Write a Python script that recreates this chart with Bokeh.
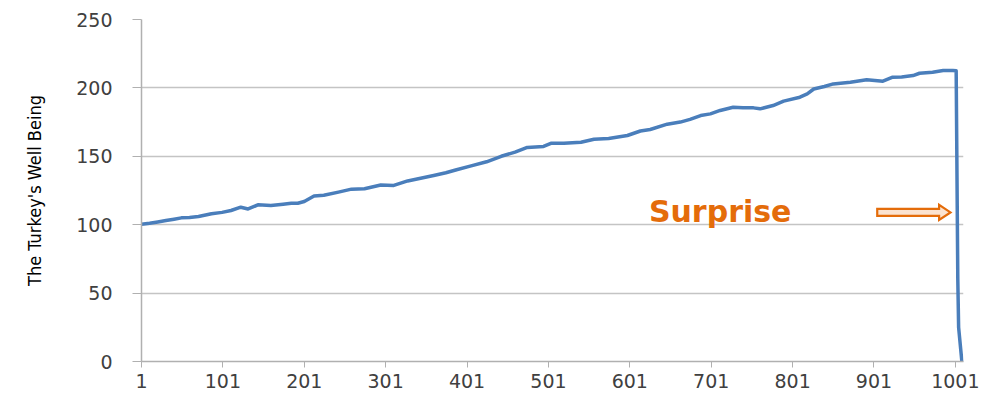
from bokeh.plotting import figure
from bokeh.models import Range1d, FixedTicker, Label, ColumnDataSource
from bokeh.embed import file_html
from bokeh.resources import INLINE

# Well-being readings by day (day number, value)
days = [1, 11, 21, 31, 41, 50, 60, 71, 87, 100, 111, 123, 132, 144, 160, 175, 185, 193,
        201, 213, 225, 243, 259, 275, 295, 311, 328, 344, 360, 375, 387, 406, 425, 443,
        460, 475, 495, 504, 520, 541, 557, 575, 598, 614, 626, 647, 663, 675, 688, 700,
        712, 728, 740, 753, 761, 777, 790, 810, 819, 827, 840, 851, 872, 892, 912, 924,
        935, 949, 957, 973, 986, 998, 1002, 1004, 1005, 1009]
wellbeing = [100.3, 101, 102, 103, 104, 105, 105.2, 106, 108, 109, 110.4, 112.8, 111.5,
             114.5, 114, 115, 115.7, 115.7, 117, 121, 121.5, 123.8, 126, 126.3, 129, 128.7,
             132, 134, 136, 138, 140, 143, 146, 150, 153, 156.5, 157.2, 159.5, 159.5, 160.3,
             162.5, 163, 165.2, 168.5, 169.6, 173.5, 175, 177, 179.8, 181, 183.5, 185.9,
             185.5, 185.4, 184.7, 187.1, 190.3, 193.2, 195.6, 199.2, 201, 202.9, 204.2,
             205.9, 204.9, 207.8, 208, 209, 210.7, 211.5, 212.7, 212.7, 212.5, 60, 25, 0]

x_ticks = [1, 101, 201, 301, 401, 501, 601, 701, 801, 901, 1001]
y_ticks = [0, 50, 100, 150, 200, 250]

y_label = "The Turkey's Well Being"
note_text = "Surprise"

# annotation placement (data units)
NOTE_X, NOTE_Y = 712, 110
ARROW_X0, ARROW_X1, ARROW_Y = 905, 995, 109

ORANGE = "#E46C0A"
BLUE = "#4A7EBB"
GRID = "#C4C4C4"
TICK_TEXT = "#404040"

p = figure(width=989, height=403, output_backend="svg", toolbar_location=None,
           x_range=Range1d(1, 1011), y_range=Range1d(0, 250),
           min_border_left=141, min_border_right=26, min_border_top=19,
           min_border_bottom=42, outline_line_color=None,
           background_fill_color="white", border_fill_color="white")

src = ColumnDataSource(data=dict(day=days, value=wellbeing))
p.line("day", "value", source=src, line_width=3.5, line_color=BLUE,
       line_join="round", line_cap="round")

# grid
p.xgrid.visible = False
p.ygrid.ticker = FixedTicker(ticks=y_ticks)
p.ygrid.grid_line_color = GRID
p.ygrid.grid_line_width = 1.5

# y axis
p.yaxis.ticker = FixedTicker(ticks=y_ticks)
p.yaxis.axis_line_color = "#B0B0B0"
p.yaxis.axis_line_width = 1.5
p.yaxis.major_tick_line_color = "#B0B0B0"
p.yaxis.major_tick_out = 9
p.yaxis.major_tick_in = 0
p.yaxis.minor_tick_line_color = None
p.yaxis.major_label_text_font = "DejaVu Sans"
p.yaxis.major_label_text_font_size = "19px"
p.yaxis.major_label_text_color = TICK_TEXT
p.yaxis.major_label_standoff = 20
p.yaxis.axis_label = y_label
p.yaxis.axis_label_text_font = "DejaVu Sans Condensed"
p.yaxis.axis_label_text_font_size = "18px"
p.yaxis.axis_label_text_font_style = "normal"
p.yaxis.axis_label_text_color = "black"
p.yaxis.axis_label_standoff = 28

# x axis
p.xaxis.ticker = FixedTicker(ticks=x_ticks)
p.xaxis.axis_line_color = "#B0B0B0"
p.xaxis.axis_line_width = 1.5
p.xaxis.major_tick_line_color = "#B0B0B0"
p.xaxis.major_tick_out = 6
p.xaxis.major_tick_in = 0
p.xaxis.minor_tick_line_color = None
p.xaxis.major_label_text_font = "DejaVu Sans"
p.xaxis.major_label_text_font_size = "19px"
p.xaxis.major_label_text_color = TICK_TEXT
p.xaxis.major_label_standoff = 6

# "Surprise" note
p.add_layout(Label(x=NOTE_X, y=NOTE_Y, text=note_text, text_font="DejaVu Sans",
                   text_font_style="bold", text_font_size="30px", text_color=ORANGE,
                   text_align="center", text_baseline="alphabetic"))

# hollow block arrow pointing at the drop
shaft, head, head_len = 2.6, 5.5, 14
ax = [ARROW_X0, ARROW_X1 - head_len, ARROW_X1 - head_len, ARROW_X1,
      ARROW_X1 - head_len, ARROW_X1 - head_len, ARROW_X0]
ay = [ARROW_Y + shaft, ARROW_Y + shaft, ARROW_Y + head, ARROW_Y,
      ARROW_Y - head, ARROW_Y - shaft, ARROW_Y - shaft]
p.patch(ax, ay, fill_color="#FBE3D0", line_color=ORANGE, line_width=2.2,
        line_join="miter")

open("out.html", "w").write(file_html(p, INLINE))
